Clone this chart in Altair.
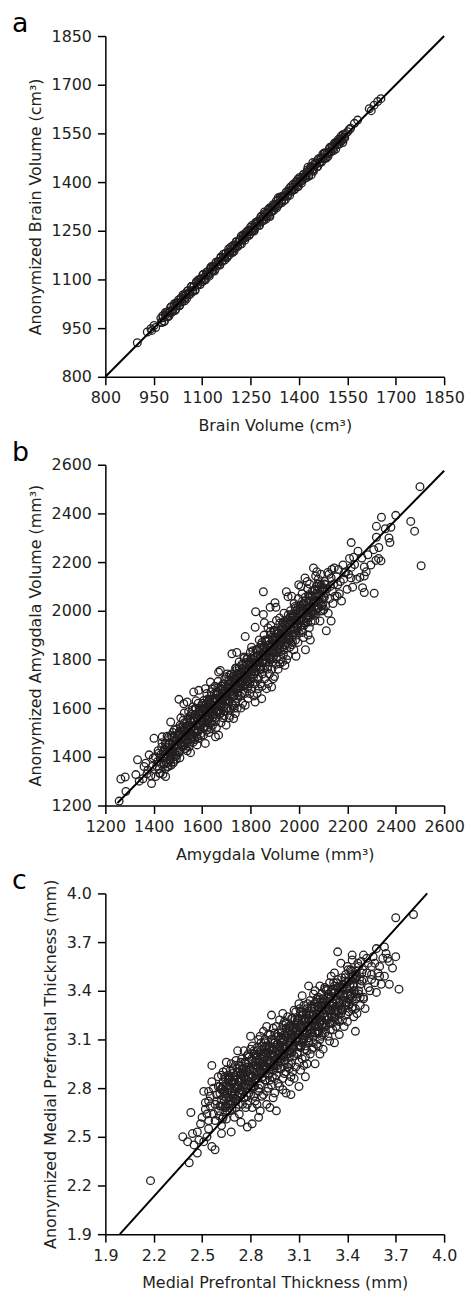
import altair as alt
import pandas as pd

FONT = "DejaVu Sans"
INK = "#231f20"

# ---------------- Panel a: brain volume ----------------
brain_pairs = [
    (899, 905), (930, 938), (941, 948), (951, 958), (944, 943), (956, 952),
    (972, 981), (975, 967), (979, 982), (983, 972), (986, 998), (990, 986), (994, 1001), (997, 987),
    (1001, 1002), (1005, 1016), (1008, 1002), (1012, 1017), (1016, 1004), (1019, 1027), (1023, 1021),
    (1027, 1037), (1030, 1021), (1034, 1038), (1038, 1031), (1041, 1053), (1045, 1042), (1049, 1055),
    (1052, 1041), (1056, 1065), (1060, 1060), (1063, 1055), (1067, 1078), (1071, 1066), (1074, 1077),
    (1078, 1066), (1082, 1089), (1085, 1084), (1089, 1099), (1093, 1084), (1096, 1101), (1100, 1094),
    (1104, 1116), (1107, 1097), (1111, 1113), (1115, 1123), (1118, 1114), (1122, 1110), (1126, 1132),
    (1129, 1140), (1133, 1126), (1137, 1138), (1140, 1131), (1144, 1154), (1148, 1145), (1151, 1155),
    (1155, 1144), (1159, 1168), (1162, 1156), (1166, 1178), (1170, 1168), (1173, 1180), (1177, 1167),
    (1181, 1184), (1184, 1176), (1188, 1199), (1192, 1187), (1195, 1203), (1199, 1187), (1203, 1204),
    (1206, 1216), (1210, 1203), (1214, 1219), (1217, 1208), (1221, 1233), (1225, 1222), (1228, 1234),
    (1232, 1221), (1236, 1245), (1239, 1238), (1243, 1247), (1247, 1239), (1250, 1261), (1254, 1248),
    (1258, 1260), (1261, 1249), (1265, 1275), (1269, 1265), (1272, 1279), (1276, 1266), (1280, 1285),
    (1283, 1295), (1287, 1285), (1291, 1282), (1294, 1302), (1298, 1293), (1302, 1305), (1305, 1316),
    (1309, 1297), (1313, 1319), (1316, 1309), (1320, 1330), (1324, 1323), (1327, 1331), (1331, 1321),
    (1335, 1344), (1338, 1332), (1342, 1354), (1346, 1343), (1349, 1356), (1353, 1342), (1357, 1358),
    (1360, 1368), (1364, 1356), (1368, 1373), (1371, 1359), (1375, 1386), (1379, 1375), (1382, 1384),
    (1386, 1377), (1390, 1400), (1393, 1387), (1397, 1409), (1401, 1400), (1404, 1410), (1408, 1397),
    (1412, 1415), (1415, 1424), (1419, 1412), (1423, 1421), (1426, 1437), (1430, 1420), (1434, 1438),
    (1437, 1445), (1441, 1436), (1445, 1433), (1448, 1455), (1452, 1453), (1456, 1447), (1459, 1469),
    (1463, 1460), (1467, 1472), (1470, 1462), (1474, 1486), (1478, 1472), (1481, 1490), (1485, 1474),
    (1489, 1491), (1492, 1488), (1496, 1507), (1500, 1493), (1503, 1509), (1507, 1497), (1511, 1514),
    (1514, 1522), (1518, 1515), (1522, 1531), (1525, 1517), (1529, 1533), (1533, 1527), (1536, 1546),
    (1540, 1538), (1544, 1549),
    (1310, 1294), (1336, 1352), (1397, 1386), (1428, 1446), (1443, 1460), (1438, 1422), (1293, 1308),
    (1536, 1522), (1551, 1555), (1556, 1562), (1560, 1566), (1572, 1581), (1582, 1591), (1618, 1626),
    (1624, 1620), (1633, 1637), (1644, 1648), (1654, 1657),
]
brain_core_pairs = [
    (974, 969), (978, 988), (982, 970), (986, 990), (990, 998), (994, 985), (998, 999), (1002, 1014),
    (1006, 999), (1010, 1007), (1014, 1025), (1018, 1008), (1022, 1028), (1026, 1028), (1030, 1019),
    (1034, 1043), (1038, 1034), (1042, 1049), (1046, 1034), (1050, 1053), (1054, 1064), (1058, 1052),
    (1062, 1061), (1066, 1078), (1070, 1062), (1074, 1079), (1078, 1068), (1082, 1093), (1086, 1084),
    (1090, 1097), (1094, 1085), (1098, 1102), (1102, 1114), (1106, 1101), (1110, 1099), (1114, 1122),
    (1118, 1119), (1122, 1115), (1126, 1136), (1130, 1127), (1134, 1140), (1138, 1126), (1142, 1151),
    (1146, 1145), (1150, 1155), (1154, 1146), (1158, 1169), (1162, 1158), (1166, 1168), (1170, 1160),
    (1174, 1181), (1178, 1172), (1182, 1194), (1186, 1184), (1190, 1193), (1194, 1183), (1198, 1206),
    (1202, 1197), (1206, 1216), (1210, 1201), (1214, 1215), (1218, 1224), (1222, 1210), (1226, 1237),
    (1230, 1227), (1234, 1238), (1238, 1231), (1242, 1251), (1246, 1236), (1250, 1252), (1254, 1266),
    (1258, 1254), (1262, 1254), (1266, 1271), (1270, 1277), (1274, 1273), (1278, 1267), (1282, 1292),
    (1286, 1280), (1290, 1293), (1294, 1302), (1298, 1286), (1302, 1303), (1306, 1301), (1310, 1321),
    (1314, 1312), (1318, 1324), (1322, 1313), (1326, 1330), (1330, 1342), (1334, 1327), (1338, 1335),
    (1342, 1351), (1346, 1336), (1350, 1355), (1354, 1356), (1358, 1346), (1362, 1370), (1366, 1362),
    (1370, 1380), (1374, 1373), (1378, 1372), (1382, 1393), (1386, 1378), (1390, 1393), (1394, 1401),
    (1398, 1387), (1402, 1414), (1406, 1404), (1410, 1405), (1414, 1423), (1418, 1419), (1422, 1413),
    (1426, 1432), (1430, 1418), (1434, 1438), (1438, 1448), (1442, 1439), (1446, 1439), (1450, 1458),
    (1454, 1456), (1458, 1448), (1462, 1473), (1466, 1460), (1470, 1475), (1474, 1473), (1478, 1490),
    (1482, 1474), (1486, 1489), (1490, 1479), (1494, 1503), (1498, 1494), (1502, 1509), (1506, 1504),
    (1510, 1520), (1514, 1502), (1518, 1524), (1522, 1517), (1526, 1527), (1530, 1541), (1534, 1531),
    (1538, 1546), (1542, 1536),
]
brain_line_x = [800, 1850]
brain_line_y = [800, 1850]
brain_ticks = [800, 950, 1100, 1250, 1400, 1550, 1700, 1850]

# ---------------- Panel b: amygdala volume ----------------
amyg_pairs = [
    (1257, 1218), (1285, 1258), (1264, 1309), (1282, 1317), (1326, 1327), (1333, 1388), (1340, 1300),
    (1367, 1374), (1381, 1408), (1360, 1360), (1394, 1360), (1372, 1330), (1388, 1322), (1355, 1310),
    (1398, 1395), (1376, 1345), (1391, 1290),
    (1408, 1319), (1449, 1319), (1401, 1476), (1435, 1482), (1415, 1380), (1422, 1350), (1430, 1410),
    (1441, 1372), (1406, 1400), (1427, 1332), (1445, 1430), (1412, 1362), (1438, 1395), (1447, 1350),
    (1418, 1425), (1433, 1440),
    (1456, 1360), (1470, 1543), (1490, 1401), (1462, 1455), (1475, 1420), (1482, 1380), (1495, 1470),
    (1458, 1410), (1466, 1390), (1488, 1445), (1479, 1500), (1497, 1420), (1453, 1440), (1471, 1365),
    (1485, 1510), (1460, 1480), (1493, 1390), (1477, 1452), (1468, 1428), (1499, 1492),
    (1504, 1636), (1524, 1618), (1538, 1625), (1538, 1425), (1510, 1455), (1515, 1510), (1520, 1480),
    (1527, 1540), (1532, 1470), (1545, 1500), (1507, 1420), (1512, 1560), (1518, 1440), (1541, 1560),
    (1548, 1455), (1503, 1490), (1523, 1505), (1536, 1520), (1529, 1450), (1544, 1585), (1509, 1530),
    (1549, 1530), (1526, 1580), (1514, 1475),
    (1552, 1417), (1565, 1666), (1586, 1673), (1579, 1449), (1555, 1520), (1560, 1490), (1568, 1545),
    (1572, 1600), (1576, 1510), (1581, 1560), (1590, 1530), (1595, 1580), (1558, 1575), (1563, 1460),
    (1570, 1470), (1584, 1620), (1593, 1495), (1598, 1545), (1553, 1550), (1575, 1630), (1588, 1585),
    (1561, 1605), (1566, 1505), (1597, 1610), (1583, 1475), (1557, 1480),
    (1613, 1680), (1613, 1455), (1634, 1707), (1604, 1560), (1608, 1520), (1611, 1600), (1617, 1540),
    (1622, 1585), (1625, 1620), (1628, 1500), (1631, 1560), (1636, 1650), (1640, 1600), (1643, 1530),
    (1646, 1575), (1649, 1640), (1602, 1620), (1606, 1490), (1619, 1660), (1624, 1555), (1629, 1595),
    (1637, 1515), (1642, 1680), (1647, 1610), (1615, 1570), (1633, 1540), (1638, 1585), (1621, 1510),
    (1655, 1482), (1668, 1489), (1668, 1748), (1675, 1755), (1652, 1600), (1657, 1560), (1661, 1640),
    (1664, 1590), (1671, 1620), (1674, 1680), (1678, 1540), (1681, 1650), (1684, 1600), (1688, 1700),
    (1691, 1570), (1694, 1630), (1697, 1660), (1699, 1530), (1653, 1690), (1659, 1520), (1666, 1710),
    (1672, 1575), (1679, 1610), (1686, 1560), (1689, 1640), (1693, 1720), (1698, 1600), (1662, 1665),
    (1677, 1590),
    (1723, 1823), (1743, 1829), (1730, 1557), (1737, 1578), (1702, 1650), (1705, 1600), (1708, 1700),
    (1711, 1630), (1714, 1570), (1717, 1670), (1720, 1740), (1726, 1610), (1729, 1680), (1732, 1650),
    (1735, 1720), (1738, 1620), (1741, 1690), (1744, 1760), (1747, 1640), (1749, 1705), (1703, 1740),
    (1712, 1560), (1718, 1595), (1724, 1660), (1733, 1600), (1739, 1765), (1745, 1600), (1707, 1680),
    (1727, 1710),
    (1778, 1894), (1778, 1612), (1752, 1680), (1755, 1740), (1758, 1650), (1761, 1710), (1764, 1780),
    (1767, 1620), (1770, 1690), (1773, 1750), (1776, 1660), (1781, 1720), (1784, 1800), (1787, 1680),
    (1790, 1640), (1793, 1760), (1796, 1700), (1799, 1830), (1753, 1790), (1760, 1600), (1766, 1730),
    (1772, 1810), (1779, 1700), (1785, 1745), (1791, 1690), (1797, 1660), (1757, 1700), (1788, 1780),
    (1819, 1932), (1819, 1625), (1846, 1639), (1821, 1996), (1802, 1720), (1805, 1680), (1808, 1760),
    (1811, 1800), (1814, 1740), (1817, 1700), (1823, 1770), (1826, 1840), (1829, 1720), (1832, 1680),
    (1835, 1790), (1838, 1760), (1841, 1700), (1844, 1860), (1847, 1810), (1849, 1740), (1804, 1850),
    (1813, 1650), (1820, 1790), (1827, 1660), (1836, 1880), (1842, 1770), (1848, 1690), (1810, 1775),
    (1831, 1815),
    (1853, 2078), (1853, 1985), (1857, 1951), (1881, 2014), (1887, 1687), (1894, 1721), (1852, 1760),
    (1855, 1820), (1858, 1720), (1861, 1880), (1864, 1790), (1867, 1840), (1870, 1760), (1873, 1700),
    (1876, 1860), (1879, 1800), (1882, 1900), (1885, 1830), (1888, 1760), (1891, 1880), (1894, 1810),
    (1897, 1850), (1899, 1730), (1856, 1900), (1866, 1680), (1872, 1930), (1878, 1740), (1884, 1940),
    (1890, 1790), (1898, 1920), (1862, 1830), (1875, 1815),
    (1901, 2033), (1905, 2014), (1921, 1782), (1942, 1776), (1948, 2078), (1903, 1840), (1906, 1780),
    (1909, 1880), (1912, 1830), (1915, 1910), (1918, 1860), (1924, 1800), (1927, 1900), (1930, 1850),
    (1933, 1950), (1936, 1820), (1939, 1880), (1944, 1920), (1947, 1860), (1949, 1800), (1907, 1960),
    (1914, 1760), (1920, 1970), (1926, 1870), (1932, 1790), (1938, 1990), (1945, 1960), (1911, 1915),
    (1929, 1930),
    (1955, 1816), (1955, 2058), (1962, 1850), (1988, 1813), (1999, 2107), (1952, 1900), (1958, 1950),
    (1961, 1880), (1965, 2000), (1968, 1920), (1971, 1860), (1974, 1980), (1977, 1900), (1980, 2030),
    (1983, 1950), (1986, 1880), (1991, 2000), (1994, 1930), (1997, 2050), (1970, 2060), (1979, 1840),
    (1989, 1960), (1996, 1870), (1963, 1975), (1985, 2010),
    (2025, 2135), (2027, 1840), (2047, 1880), (2003, 1960), (2006, 2020), (2010, 1920), (2013, 2070),
    (2017, 1990), (2021, 1940), (2028, 2040), (2032, 1970), (2036, 2090), (2040, 2010), (2043, 1930),
    (2046, 2060), (2049, 1990), (2008, 2100), (2019, 1890), (2034, 2120), (2038, 1900), (2044, 2110),
    (2015, 2040),
    (2060, 2176), (2069, 2143), (2087, 1958), (2052, 2020), (2056, 2080), (2063, 2040), (2066, 1960),
    (2072, 2100), (2076, 2010), (2080, 2130), (2083, 2060), (2090, 2150), (2094, 2020), (2097, 2090),
    (2058, 1990), (2085, 2110), (2074, 2160), (2099, 2000),
    (2113, 1918), (2119, 2157), (2133, 2135), (2133, 1958), (2146, 2176), (2103, 2060), (2107, 2120),
    (2110, 2020), (2116, 2090), (2124, 2150), (2127, 2050), (2130, 2100), (2138, 2080), (2141, 2030),
    (2144, 2110), (2149, 2060), (2121, 1990), (2136, 2170),
    (2160, 2107), (2167, 2070), (2182, 2188), (2188, 2156), (2199, 2088), (2155, 2140), (2163, 2170),
    (2171, 2120), (2176, 2040), (2185, 2130), (2193, 2160), (2158, 2060),
    (2209, 2215), (2215, 2135), (2216, 2280), (2216, 2178), (2222, 2097), (2244, 2245), (2205, 2150),
    (2230, 2190), (2238, 2130), (2226, 2220),
    (2252, 2137), (2260, 2217), (2263, 2095), (2270, 2180), (2270, 2143), (2270, 2075), (2297, 2188),
    (2285, 2230), (2278, 2160),
    (2309, 2251), (2311, 2072), (2318, 2207), (2320, 2347), (2320, 2302), (2329, 2215), (2339, 2205),
    (2341, 2384), (2330, 2260),
    (2357, 2337), (2372, 2299), (2376, 2280), (2380, 2343), (2400, 2392), (2462, 2367), (2478, 2327),
    (2500, 2510), (2505, 2185),
]
amyg_core_pairs = [
    (1420, 1415), (1424, 1332), (1427, 1397), (1431, 1371), (1434, 1458), (1438, 1328), (1441, 1423),
    (1445, 1400), (1448, 1456), (1452, 1374), (1455, 1485), (1459, 1359), (1462, 1427), (1466, 1454),
    (1469, 1385), (1473, 1488), (1476, 1421), (1480, 1374), (1483, 1483), (1487, 1419), (1490, 1465),
    (1494, 1514), (1497, 1407), (1501, 1453), (1504, 1497), (1508, 1396), (1511, 1521), (1515, 1450),
    (1518, 1478), (1522, 1550), (1525, 1445), (1529, 1507), (1532, 1434), (1536, 1541), (1539, 1487),
    (1543, 1528), (1546, 1441), (1550, 1568), (1553, 1481), (1557, 1525), (1560, 1592), (1564, 1476),
    (1567, 1557), (1571, 1513), (1574, 1596), (1578, 1483), (1581, 1553), (1585, 1510), (1588, 1598),
    (1592, 1550), (1595, 1487), (1599, 1597), (1602, 1540), (1606, 1631), (1609, 1524), (1613, 1593),
    (1616, 1566), (1620, 1635), (1623, 1521), (1627, 1629), (1630, 1560), (1634, 1597), (1637, 1667),
    (1641, 1549), (1644, 1630), (1648, 1594), (1651, 1659), (1655, 1545), (1658, 1653), (1662, 1582),
    (1665, 1685), (1669, 1609), (1672, 1642), (1676, 1580), (1679, 1691), (1683, 1637), (1686, 1676),
    (1690, 1586), (1693, 1697), (1697, 1631), (1700, 1729), (1704, 1631), (1707, 1686), (1711, 1624),
    (1714, 1735), (1718, 1665), (1721, 1708), (1725, 1616), (1728, 1731), (1732, 1653), (1735, 1704),
    (1739, 1764), (1742, 1675), (1746, 1743), (1749, 1654), (1753, 1766), (1756, 1709), (1760, 1743),
    (1763, 1660), (1767, 1776), (1770, 1709), (1774, 1805), (1777, 1694), (1781, 1758), (1784, 1709),
    (1788, 1807), (1791, 1750), (1795, 1786), (1798, 1701), (1802, 1803), (1805, 1748), (1809, 1836),
    (1812, 1723), (1816, 1787), (1819, 1750), (1823, 1840), (1826, 1777), (1830, 1815), (1833, 1726),
    (1837, 1848), (1840, 1759), (1844, 1809), (1847, 1870), (1851, 1786), (1854, 1853), (1858, 1765),
    (1861, 1876), (1865, 1810), (1868, 1849), (1872, 1771), (1875, 1880), (1879, 1806), (1882, 1915),
    (1886, 1801), (1889, 1864), (1893, 1830), (1896, 1917), (1900, 1855), (1903, 1892), (1907, 1802),
    (1910, 1917), (1914, 1843), (1917, 1884), (1921, 1950), (1924, 1833), (1928, 1923), (1931, 1880),
    (1935, 1954), (1938, 1839), (1942, 1945), (1945, 1886), (1949, 1922), (1952, 1868), (1956, 1984),
    (1959, 1885), (1963, 1953), (1966, 1926), (1970, 1986), (1973, 1873), (1977, 1973), (1980, 1916),
    (1984, 2018), (1987, 1909), (1991, 1973), (1994, 1944), (1998, 2018), (2001, 1909), (2005, 2007),
    (2008, 1964), (2012, 1998), (2015, 1911), (2019, 2031), (2022, 1950), (2026, 2056), (2029, 1971),
    (2033, 2007), (2036, 1954), (2040, 2066), (2043, 2007), (2047, 2041), (2050, 1954), (2054, 2062),
    (2057, 1995), (2061, 2033), (2064, 2086), (2068, 1982), (2071, 2071), (2075, 2021), (2078, 2110),
    (2082, 2012), (2085, 2065), (2089, 1999), (2092, 2106), (2096, 2050), (2099, 2087), (2103, 2005),
    (2106, 2110),
]
amyg_inner_pairs = [
    (1440, 1420), (1444, 1369), (1447, 1412), (1451, 1451), (1454, 1399), (1458, 1376), (1461, 1451),
    (1465, 1417), (1468, 1440), (1472, 1404), (1475, 1480), (1479, 1419), (1482, 1442), (1486, 1481),
    (1489, 1409), (1493, 1468), (1496, 1451), (1500, 1485), (1503, 1418), (1507, 1505), (1510, 1458),
    (1514, 1482), (1517, 1447), (1521, 1523), (1524, 1459), (1528, 1506), (1531, 1489), (1535, 1527),
    (1538, 1460), (1542, 1512), (1545, 1487), (1549, 1553), (1552, 1502), (1556, 1544), (1559, 1475),
    (1563, 1526), (1566, 1548), (1570, 1497), (1573, 1573), (1577, 1531), (1580, 1554), (1584, 1504),
    (1587, 1583), (1591, 1529), (1594, 1560), (1598, 1588), (1601, 1546), (1605, 1520), (1608, 1592),
    (1612, 1569), (1615, 1615), (1619, 1551), (1622, 1594), (1626, 1550), (1629, 1634), (1633, 1583),
    (1636, 1614), (1640, 1580), (1643, 1637), (1647, 1565), (1650, 1612), (1654, 1640), (1657, 1587),
    (1661, 1629), (1664, 1668), (1668, 1612), (1671, 1593), (1675, 1655), (1678, 1634), (1682, 1678),
    (1685, 1621), (1689, 1659), (1692, 1608), (1696, 1686), (1699, 1647), (1703, 1682), (1706, 1635),
    (1710, 1715), (1713, 1668), (1717, 1684), (1720, 1657), (1724, 1725), (1727, 1650), (1731, 1716),
    (1734, 1695), (1738, 1729), (1741, 1686), (1745, 1663), (1748, 1725), (1752, 1755), (1755, 1686),
    (1759, 1728), (1762, 1711), (1766, 1763), (1769, 1696), (1773, 1760), (1776, 1733), (1780, 1787),
    (1783, 1724), (1787, 1762), (1790, 1711), (1794, 1759), (1797, 1792), (1801, 1736), (1804, 1785),
    (1808, 1761), (1811, 1812), (1815, 1740), (1818, 1789), (1822, 1765), (1825, 1814), (1829, 1788),
    (1832, 1837), (1836, 1769), (1839, 1818), (1843, 1762), (1846, 1845), (1850, 1799), (1853, 1816),
    (1857, 1850), (1860, 1799), (1864, 1837), (1867, 1790), (1871, 1878), (1874, 1829), (1878, 1861),
    (1881, 1810), (1885, 1852), (1888, 1891), (1892, 1837), (1895, 1882), (1899, 1826), (1902, 1877),
    (1906, 1867), (1909, 1906), (1913, 1850), (1916, 1907), (1920, 1841), (1923, 1892), (1927, 1874),
    (1930, 1931), (1934, 1887), (1937, 1918), (1941, 1860), (1944, 1939), (1948, 1891), (1951, 1919),
    (1955, 1963), (1958, 1894), (1962, 1942), (1965, 1925), (1969, 1961), (1972, 1900), (1976, 1978),
    (1979, 1933), (1983, 1957), (1986, 1928), (1990, 2000), (1993, 1919), (1997, 1983), (2000, 1962),
    (2004, 2000), (2007, 1941), (2011, 1987), (2014, 1962), (2018, 2024), (2021, 1959), (2025, 2007),
    (2028, 1950), (2032, 2022), (2035, 1993), (2039, 2039), (2042, 1972), (2046, 2016), (2049, 2001),
    (2053, 2057), (2056, 2000), (2060, 2038), (2063, 1987), (2067, 2061), (2070, 2034), (2074, 2010),
    (2077, 2087), (2081, 2037), (2084, 2070), (2088, 2028), (2091, 2063), (2095, 2097), (2098, 2024),
    (2102, 2086), (2105, 2055), (2109, 2107),
]
amyg_line_x = [1250, 2600]
amyg_line_y = [1210, 2575]
amyg_ticks = [1200, 1400, 1600, 1800, 2000, 2200, 2400, 2600]

# ---------------- Panel c: medial prefrontal thickness ----------------
thick_pairs = [
    (2.18, 2.23), (2.42, 2.34), (2.38, 2.50), (2.41, 2.47), (2.44, 2.52), (2.45, 2.45), (2.43, 2.65),
    (2.47, 2.40), (2.48, 2.48), (2.51, 2.47), (2.56, 2.44), (2.58, 2.42),
    (2.51, 2.78), (2.54, 2.78), (2.52, 2.71), (2.55, 2.69), (2.54, 2.72), (2.52, 2.67), (2.54, 2.60),
    (2.54, 2.55), (2.50, 2.62), (2.53, 2.64), (2.49, 2.58), (2.55, 2.75), (2.47, 2.53), (2.53, 2.50),
    (2.56, 2.94), (2.56, 2.84), (2.57, 2.64), (2.62, 2.52), (2.62, 2.57), (2.63, 2.90), (2.65, 2.96),
    (2.58, 2.70), (2.59, 2.76), (2.60, 2.66), (2.61, 2.81), (2.62, 2.73), (2.63, 2.62), (2.64, 2.78),
    (2.57, 2.80), (2.58, 2.60), (2.60, 2.87), (2.61, 2.69), (2.63, 2.84), (2.64, 2.68), (2.65, 2.74),
    (2.59, 2.72), (2.62, 2.79), (2.65, 2.61),
    (2.68, 2.53), (2.72, 3.03), (2.74, 2.59), (2.66, 2.70), (2.67, 2.86), (2.68, 2.78), (2.69, 2.92),
    (2.70, 2.74), (2.70, 2.85), (2.71, 2.68), (2.71, 2.80), (2.72, 2.90), (2.72, 2.75), (2.73, 2.64),
    (2.73, 2.84), (2.74, 2.96), (2.74, 2.79), (2.75, 2.70), (2.75, 2.88), (2.66, 2.80), (2.67, 2.66),
    (2.68, 2.95), (2.69, 2.72), (2.69, 2.83), (2.70, 2.62), (2.71, 2.97), (2.72, 2.82), (2.73, 2.77),
    (2.74, 2.86), (2.75, 2.92), (2.66, 2.88), (2.71, 2.73),
    (2.76, 3.03), (2.78, 2.56), (2.80, 3.12), (2.81, 2.58), (2.85, 2.62), (2.76, 2.74), (2.76, 2.86),
    (2.77, 2.95), (2.77, 2.80), (2.78, 2.70), (2.78, 2.90), (2.79, 2.99), (2.79, 2.84), (2.80, 2.76),
    (2.80, 2.92), (2.81, 2.68), (2.81, 2.87), (2.82, 3.01), (2.82, 2.81), (2.83, 2.94), (2.83, 2.72),
    (2.84, 2.88), (2.84, 3.05), (2.85, 2.78), (2.85, 2.96), (2.76, 2.92), (2.77, 2.68), (2.78, 3.00),
    (2.79, 2.77), (2.80, 2.84), (2.81, 3.06), (2.82, 2.75), (2.82, 2.90), (2.83, 2.85), (2.84, 2.70),
    (2.84, 2.97), (2.85, 3.10), (2.79, 2.93), (2.83, 3.00),
    (2.86, 2.66), (2.90, 3.18), (2.92, 2.68), (2.93, 3.25), (2.86, 2.82), (2.86, 2.96), (2.87, 3.06),
    (2.87, 2.89), (2.88, 2.76), (2.88, 2.99), (2.89, 3.10), (2.89, 2.85), (2.90, 2.93), (2.90, 2.78),
    (2.91, 3.02), (2.91, 2.88), (2.92, 3.13), (2.92, 2.96), (2.93, 2.82), (2.93, 3.04), (2.94, 2.91),
    (2.94, 2.74), (2.95, 3.08), (2.95, 2.97), (2.86, 3.12), (2.87, 2.75), (2.88, 2.92), (2.89, 3.02),
    (2.90, 2.70), (2.90, 3.05), (2.91, 2.95), (2.92, 2.85), (2.93, 2.99), (2.94, 3.17), (2.94, 3.00),
    (2.95, 2.86), (2.88, 3.15), (2.91, 2.80), (2.93, 2.92), (2.87, 2.98), (2.95, 2.77), (2.89, 2.94),
    (2.96, 2.66), (2.98, 3.22), (3.02, 2.77), (3.05, 2.76), (2.96, 2.88), (2.96, 3.02), (2.97, 3.12),
    (2.97, 2.94), (2.98, 2.81), (2.98, 3.05), (2.99, 3.16), (2.99, 2.92), (3.00, 3.00), (3.00, 2.86),
    (3.00, 3.10), (3.01, 3.21), (3.01, 2.97), (3.02, 3.06), (3.02, 2.90), (3.03, 3.14), (3.03, 3.01),
    (3.04, 2.84), (3.04, 3.08), (3.05, 2.95), (3.05, 3.19), (2.96, 3.18), (2.97, 2.83), (2.98, 2.97),
    (2.99, 3.08), (3.00, 2.79), (3.00, 3.26), (3.01, 3.04), (3.01, 2.89), (3.02, 3.12), (3.03, 2.93),
    (3.03, 3.24), (3.04, 2.99), (3.04, 3.15), (3.05, 3.03), (3.05, 2.87), (2.97, 3.07), (2.99, 3.00),
    (3.02, 3.17), (3.04, 2.92),
    (3.07, 3.28), (3.10, 2.81), (3.12, 3.37), (3.14, 2.87), (3.06, 2.90), (3.06, 3.10), (3.07, 3.00),
    (3.07, 3.17), (3.08, 2.93), (3.08, 3.09), (3.09, 3.22), (3.09, 3.02), (3.10, 2.96), (3.10, 3.13),
    (3.11, 3.27), (3.11, 3.05), (3.12, 3.18), (3.12, 2.98), (3.13, 3.10), (3.13, 3.31), (3.14, 3.04),
    (3.14, 3.21), (3.15, 2.95), (3.15, 3.14), (3.06, 3.23), (3.07, 2.86), (3.08, 3.27), (3.09, 3.11),
    (3.10, 3.32), (3.10, 3.06), (3.11, 2.91), (3.12, 3.08), (3.13, 3.22), (3.13, 2.94), (3.14, 3.14),
    (3.15, 3.29), (3.15, 3.03), (3.08, 3.15), (3.11, 3.19), (3.14, 2.99), (3.06, 3.04), (3.12, 3.25),
    (3.16, 3.43), (3.20, 2.95), (3.23, 3.01), (3.23, 3.43), (3.16, 3.08), (3.16, 3.25), (3.17, 3.16),
    (3.17, 3.34), (3.18, 3.04), (3.18, 3.22), (3.19, 3.38), (3.19, 3.12), (3.20, 3.18), (3.20, 3.30),
    (3.21, 3.07), (3.21, 3.24), (3.22, 3.36), (3.22, 3.15), (3.23, 3.27), (3.23, 3.10), (3.24, 3.32),
    (3.24, 3.19), (3.25, 3.04), (3.25, 3.26), (3.16, 3.18), (3.17, 3.01), (3.18, 3.30), (3.19, 3.22),
    (3.20, 3.40), (3.21, 3.14), (3.22, 3.28), (3.22, 3.06), (3.23, 3.20), (3.24, 3.38), (3.24, 3.12),
    (3.25, 3.35), (3.19, 3.05), (3.21, 3.33),
    (3.30, 3.49), (3.32, 3.51), (3.32, 3.08), (3.34, 3.64), (3.26, 3.14), (3.26, 3.31), (3.27, 3.22),
    (3.27, 3.40), (3.28, 3.12), (3.28, 3.29), (3.29, 3.45), (3.29, 3.20), (3.30, 3.26), (3.30, 3.36),
    (3.31, 3.16), (3.31, 3.32), (3.32, 3.43), (3.32, 3.24), (3.33, 3.35), (3.33, 3.18), (3.34, 3.28),
    (3.34, 3.47), (3.35, 3.21), (3.35, 3.38), (3.26, 3.42), (3.28, 3.36), (3.29, 3.09), (3.31, 3.41),
    (3.33, 3.27), (3.35, 3.13), (3.27, 3.28), (3.30, 3.20),
    (3.36, 3.57), (3.40, 3.55), (3.40, 3.21), (3.43, 3.62), (3.43, 3.59), (3.45, 3.15), (3.36, 3.29),
    (3.37, 3.44), (3.37, 3.22), (3.38, 3.36), (3.39, 3.50), (3.39, 3.31), (3.40, 3.41), (3.41, 3.27),
    (3.41, 3.46), (3.42, 3.37), (3.42, 3.53), (3.43, 3.30), (3.44, 3.43), (3.44, 3.24), (3.45, 3.48),
    (3.38, 3.18), (3.41, 3.35), (3.45, 3.38),
    (3.46, 3.49), (3.46, 3.26), (3.50, 3.62), (3.52, 3.60), (3.53, 3.42), (3.55, 3.55), (3.47, 3.38),
    (3.47, 3.55), (3.48, 3.31), (3.48, 3.44), (3.49, 3.51), (3.50, 3.36), (3.50, 3.47), (3.51, 3.29),
    (3.52, 3.51), (3.53, 3.57), (3.54, 3.40), (3.55, 3.47),
    (3.57, 3.57), (3.58, 3.66), (3.59, 3.51), (3.60, 3.49), (3.55, 3.50), (3.57, 3.45), (3.58, 3.39),
    (3.60, 3.55), (3.62, 3.60), (3.64, 3.63), (3.65, 3.60), (3.63, 3.49), (3.61, 3.44), (3.56, 3.61),
    (3.66, 3.58), (3.70, 3.61), (3.66, 3.44), (3.72, 3.41), (3.70, 3.85), (3.81, 3.87), (3.68, 3.54),
    (3.63, 3.67),
]
thick_core_pairs = [
    (2.600, 2.81), (2.605, 2.63), (2.610, 2.77), (2.615, 2.69), (2.620, 2.88), (2.625, 2.61),
    (2.630, 2.81), (2.635, 2.75), (2.640, 2.87), (2.645, 2.69), (2.650, 2.91), (2.655, 2.66),
    (2.660, 2.79), (2.665, 2.85), (2.670, 2.70), (2.675, 2.91), (2.680, 2.77), (2.685, 2.67),
    (2.690, 2.89), (2.695, 2.75), (2.700, 2.85), (2.705, 2.94), (2.710, 2.72), (2.715, 2.81),
    (2.720, 2.90), (2.725, 2.70), (2.730, 2.94), (2.735, 2.79), (2.740, 2.85), (2.745, 2.98),
    (2.750, 2.78), (2.755, 2.90), (2.760, 2.74), (2.765, 2.96), (2.770, 2.85), (2.775, 2.93),
    (2.780, 2.75), (2.785, 3.01), (2.790, 2.82), (2.795, 2.91), (2.800, 3.04), (2.805, 2.80),
    (2.810, 2.97), (2.815, 2.87), (2.820, 3.03), (2.825, 2.81), (2.830, 2.94), (2.835, 2.86),
    (2.840, 3.03), (2.845, 2.93), (2.850, 2.80), (2.855, 3.02), (2.860, 2.91), (2.865, 3.08),
    (2.870, 2.86), (2.875, 3.00), (2.880, 2.94), (2.885, 3.08), (2.890, 2.85), (2.895, 3.06),
    (2.900, 2.92), (2.905, 2.99), (2.910, 3.13), (2.915, 2.89), (2.920, 3.05), (2.925, 2.97),
    (2.930, 3.10), (2.935, 2.87), (2.940, 3.08), (2.945, 2.94), (2.950, 3.14), (2.955, 2.98),
    (2.960, 3.05), (2.965, 2.92), (2.970, 3.14), (2.975, 3.03), (2.980, 3.10), (2.985, 2.92),
    (2.990, 3.14), (2.995, 3.01), (3.000, 3.19), (3.005, 3.00), (3.010, 3.10), (3.015, 2.97),
    (3.020, 3.20), (3.025, 3.05), (3.030, 3.14), (3.035, 2.95), (3.040, 3.17), (3.045, 3.02),
    (3.050, 3.11), (3.055, 3.23), (3.060, 3.05), (3.065, 3.18), (3.070, 3.00), (3.075, 3.22),
    (3.080, 3.11), (3.085, 3.17), (3.090, 3.01), (3.095, 3.23), (3.100, 3.09), (3.105, 3.29),
    (3.110, 3.06), (3.115, 3.19), (3.120, 3.08), (3.125, 3.27), (3.130, 3.16), (3.135, 3.23),
    (3.140, 3.06), (3.145, 3.26), (3.150, 3.14), (3.155, 3.32), (3.160, 3.09), (3.165, 3.22),
    (3.170, 3.14), (3.175, 3.31), (3.180, 3.19), (3.185, 3.25), (3.190, 3.08), (3.195, 3.32),
    (3.200, 3.14), (3.205, 3.23), (3.210, 3.35), (3.215, 3.18), (3.220, 3.31), (3.225, 3.14),
    (3.230, 3.35), (3.235, 3.21), (3.240, 3.30), (3.245, 3.13), (3.250, 3.35), (3.255, 3.20),
    (3.260, 3.41), (3.265, 3.18), (3.270, 3.30), (3.275, 3.24), (3.280, 3.41), (3.285, 3.28),
    (3.290, 3.35), (3.295, 3.16), (3.300, 3.40), (3.305, 3.24), (3.310, 3.33), (3.315, 3.45),
    (3.320, 3.21), (3.325, 3.39), (3.330, 3.30), (3.335, 3.45), (3.340, 3.22), (3.345, 3.42),
    (3.350, 3.31), (3.355, 3.37), (3.360, 3.26), (3.365, 3.48), (3.370, 3.28), (3.375, 3.42),
    (3.380, 3.36), (3.385, 3.48), (3.390, 3.25), (3.395, 3.45), (3.400, 3.33), (3.405, 3.53),
    (3.410, 3.31), (3.415, 3.43), (3.420, 3.38), (3.425, 3.52), (3.430, 3.29), (3.435, 3.49),
    (3.440, 3.40), (3.445, 3.47), (3.450, 3.29), (3.455, 3.52), (3.460, 3.36), (3.465, 3.57),
    (3.470, 3.40), (3.475, 3.47), (3.480, 3.36), (3.485, 3.58), (3.490, 3.46), (3.495, 3.53),
    (3.500, 3.35),
]
thick_inner_pairs = [
    (2.622, 2.80), (2.627, 2.69), (2.632, 2.78), (2.637, 2.72), (2.642, 2.86), (2.647, 2.68),
    (2.652, 2.81), (2.657, 2.77), (2.662, 2.85), (2.667, 2.74), (2.672, 2.87), (2.677, 2.72),
    (2.682, 2.80), (2.687, 2.84), (2.692, 2.75), (2.697, 2.87), (2.702, 2.80), (2.707, 2.73),
    (2.712, 2.88), (2.717, 2.80), (2.722, 2.84), (2.727, 2.92), (2.732, 2.77), (2.737, 2.84),
    (2.742, 2.89), (2.747, 2.76), (2.752, 2.92), (2.757, 2.82), (2.762, 2.87), (2.767, 2.96),
    (2.772, 2.82), (2.777, 2.90), (2.782, 2.80), (2.787, 2.96), (2.792, 2.87), (2.797, 2.92),
    (2.802, 2.81), (2.807, 2.98), (2.812, 2.87), (2.817, 2.92), (2.822, 3.01), (2.827, 2.86),
    (2.832, 2.96), (2.837, 2.90), (2.842, 3.00), (2.847, 2.86), (2.852, 2.96), (2.857, 2.89),
    (2.862, 3.01), (2.867, 2.95), (2.872, 2.87), (2.877, 3.01), (2.882, 2.93), (2.887, 3.05),
    (2.892, 2.91), (2.897, 3.01), (2.902, 2.97), (2.907, 3.06), (2.912, 2.91), (2.917, 3.04),
    (2.922, 2.96), (2.927, 3.01), (2.932, 3.10), (2.937, 2.94), (2.942, 3.04), (2.947, 3.00),
    (2.952, 3.08), (2.957, 2.94), (2.962, 3.07), (2.967, 2.98), (2.972, 3.12), (2.977, 3.01),
    (2.982, 3.06), (2.987, 2.98), (2.992, 3.11), (2.997, 3.05), (3.002, 3.10), (3.007, 2.99),
    (3.012, 3.13), (3.017, 3.05), (3.022, 3.17), (3.027, 3.03), (3.032, 3.11), (3.037, 3.03),
    (3.042, 3.18), (3.047, 3.08), (3.052, 3.13), (3.057, 3.02), (3.062, 3.16), (3.067, 3.06),
    (3.072, 3.12), (3.077, 3.19), (3.082, 3.09), (3.087, 3.17), (3.092, 3.06), (3.097, 3.20),
    (3.102, 3.14), (3.107, 3.17), (3.112, 3.06), (3.117, 3.22), (3.122, 3.13), (3.127, 3.26),
    (3.132, 3.11), (3.137, 3.19), (3.142, 3.13), (3.147, 3.25), (3.152, 3.18), (3.157, 3.23),
    (3.162, 3.11), (3.167, 3.25), (3.172, 3.18), (3.177, 3.29), (3.182, 3.14), (3.187, 3.22),
    (3.192, 3.18), (3.197, 3.29), (3.202, 3.22), (3.207, 3.26), (3.212, 3.15), (3.217, 3.30),
    (3.222, 3.18), (3.227, 3.25), (3.232, 3.33), (3.237, 3.22), (3.242, 3.31), (3.247, 3.19),
    (3.252, 3.33), (3.257, 3.24), (3.262, 3.31), (3.267, 3.19), (3.272, 3.33), (3.277, 3.24),
    (3.282, 3.38), (3.287, 3.23), (3.292, 3.31), (3.297, 3.28), (3.302, 3.39), (3.307, 3.29),
    (3.312, 3.35), (3.317, 3.23), (3.322, 3.39), (3.327, 3.28), (3.332, 3.34), (3.337, 3.42),
    (3.342, 3.27), (3.347, 3.39), (3.352, 3.33), (3.357, 3.42), (3.362, 3.28), (3.367, 3.41),
    (3.372, 3.34), (3.377, 3.38), (3.382, 3.31), (3.387, 3.46), (3.392, 3.33), (3.397, 3.42),
    (3.402, 3.38), (3.407, 3.46), (3.412, 3.32), (3.417, 3.44), (3.422, 3.37), (3.427, 3.50),
    (3.432, 3.36), (3.437, 3.44), (3.442, 3.40), (3.447, 3.50), (3.452, 3.35), (3.457, 3.49),
]
thick_line_x = [1.99, 3.895]
thick_line_y = [1.9, 4.0]
thick_ticks = [1.9, 2.2, 2.5, 2.8, 3.1, 3.4, 3.7, 4.0]


def panel(pairs, line_x, line_y, ticks, fmt, xtitle, ytitle, letter):
    pts_df = pd.DataFrame(pairs, columns=["x", "y"])
    line_df = pd.DataFrame({"x": line_x, "y": line_y})
    dom = [ticks[0], ticks[-1]]
    xs = alt.Scale(domain=dom, nice=False, zero=False)
    ys = alt.Scale(domain=dom, nice=False, zero=False)
    xaxis = alt.Axis(values=ticks, format=fmt, title=xtitle, labelFlush=False,
                     labelOverlap=False, labelPadding=5, titlePadding=12)
    yaxis = alt.Axis(values=ticks, format=fmt, title=ytitle, labelFlush=False,
                     labelOverlap=False, labelPadding=6, titlePadding=8)
    pts = alt.Chart(pts_df).mark_point(
        shape="circle", filled=False, size=60, strokeWidth=1.3, color=INK, opacity=1
    ).encode(x=alt.X("x:Q", scale=xs, axis=xaxis), y=alt.Y("y:Q", scale=ys, axis=yaxis))
    line = alt.Chart(line_df).mark_line(color="black", strokeWidth=2).encode(
        x=alt.X("x:Q", scale=xs), y=alt.Y("y:Q", scale=ys)
    )
    lab = alt.Chart(pd.DataFrame({"t": [letter]})).mark_text(
        align="left", baseline="alphabetic", fontSize=27, font=FONT, color="black"
    ).encode(x=alt.value(-94), y=alt.value(-4), text="t:N")
    return alt.layer(pts, line, lab).properties(width=341, height=343)


pa = panel(brain_pairs + brain_core_pairs, brain_line_x, brain_line_y, brain_ticks, "d",
           "Brain Volume (cm³)", "Anonymized Brain Volume (cm³)", "a")
pb = panel(amyg_pairs + amyg_core_pairs + amyg_inner_pairs, amyg_line_x, amyg_line_y,
           amyg_ticks, "d", "Amygdala Volume (mm³)", "Anonymized Amygdala Volume (mm³)", "b")
pc = panel(thick_pairs + thick_core_pairs + thick_inner_pairs, thick_line_x, thick_line_y,
           thick_ticks, ".1f", "Medial Prefrontal Thickness (mm)",
           "Anonymized Medial Prefrontal Thickness (mm)", "c")

chart = alt.vconcat(pa, pb, pc, spacing=88.5, bounds="flush").configure_view(
    stroke=None
).configure_axis(
    grid=False, domainColor="black", domainWidth=1.5, tickColor="black", tickWidth=1.5,
    tickSize=8, labelFont=FONT, labelFontSize=16, labelColor=INK, titleFont=FONT,
    titleFontSize=16, titleFontWeight="normal", titleColor=INK
).properties(
    background="white",
    padding={"left": 4, "top": -2, "right": 0, "bottom": 0},
)

chart.save("out.html", embed_options={"renderer": "svg", "actions": False})
